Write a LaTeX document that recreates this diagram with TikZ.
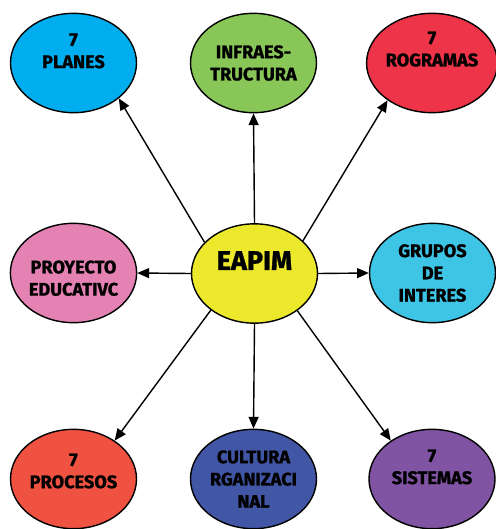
\documentclass[tikz,border=0pt]{standalone}
\usepackage{fontspec}
\setmainfont{Fira Sans}[BoldFeatures={FakeBold=1.2}]
\usepackage{tikz}
\usetikzlibrary{arrows.meta,shapes.geometric}
\definecolor{planescol}{RGB}{0,174,239}
\definecolor{infracol}{RGB}{137,198,88}
\definecolor{progcol}{RGB}{238,52,72}
\definecolor{proycol}{RGB}{228,130,180}
\definecolor{eapimcol}{RGB}{236,233,44}
\definecolor{gruposcol}{RGB}{62,196,228}
\definecolor{procescol}{RGB}{240,82,66}
\definecolor{culturacol}{RGB}{66,86,166}
\definecolor{sistemcol}{RGB}{128,84,162}
% shift the text of a node up or down inside its ellipse
\newcommand{\liftby}[2]{\raisebox{#1}[\height][\depth]{\begin{tabular}{@{}c@{}}#2\end{tabular}}}
\begin{document}
\begin{tikzpicture}[x=0.03cm,y=-0.03cm,
ell/.style={draw,ellipse,line width=1.2pt,minimum width=3.78cm,minimum height=2.98cm,inner sep=0pt,align=center,font=\bfseries\fontsize{15.5}{19}\selectfont},
arr/.style={-{Triangle[length=10pt,width=8.5pt]},line width=1.2pt}]
\useasboundingbox (0,0) rectangle (495,529);
% top row
\node[ell,fill=planescol] (planes) at (73.5,63) {\liftby{9pt}{7\\PLANES}};
\node[ell,fill=infracol] (infra) at (253.5,63) {INFRAES-\\TRUCTURA};
\node[ell,fill=progcol] (prog) at (432,63) {\liftby{10.5pt}{7\\ROGRAMAS}};
% middle row
\node[ell,fill=proycol] (proy) at (73.5,273) {\liftby{-6pt}{PROYECTO\\EDUCATIVC}};
\node[ell,fill=eapimcol,font=\bfseries\fontsize{23}{27}\selectfont] (eapim) at (254.5,273.5) {\liftby{8.5pt}{EAPIM}};
\node[ell,fill=gruposcol] (grupos) at (432.5,273) {GRUPOS\\DE\\INTERES};
% bottom row
\node[ell,fill=procescol] (procesos) at (73.5,479) {\liftby{5.5pt}{7\\PROCESOS}};
\node[ell,fill=culturacol] (cultura) at (253.5,479) {CULTURA\\RGANIZACI\\NAL};
\node[ell,fill=sistemcol] (sistemas) at (432,479) {\liftby{9pt}{7\\SISTEMAS}};
% arrows out of the centre
\draw[arr] (eapim.148) -- (planes.-38);
\draw[arr] (eapim.north) -- (infra.south);
\draw[arr] (eapim.34) -- (prog.-140);
\draw[arr] (eapim.west) -- (proy.east);
\draw[arr] (eapim.east) -- (grupos.west);
\draw[arr] (eapim.220) -- (procesos.43);
\draw[arr] (eapim.south) -- (cultura.north);
\draw[arr] (eapim.-41) -- (sistemas.137);
\end{tikzpicture}
\end{document}
